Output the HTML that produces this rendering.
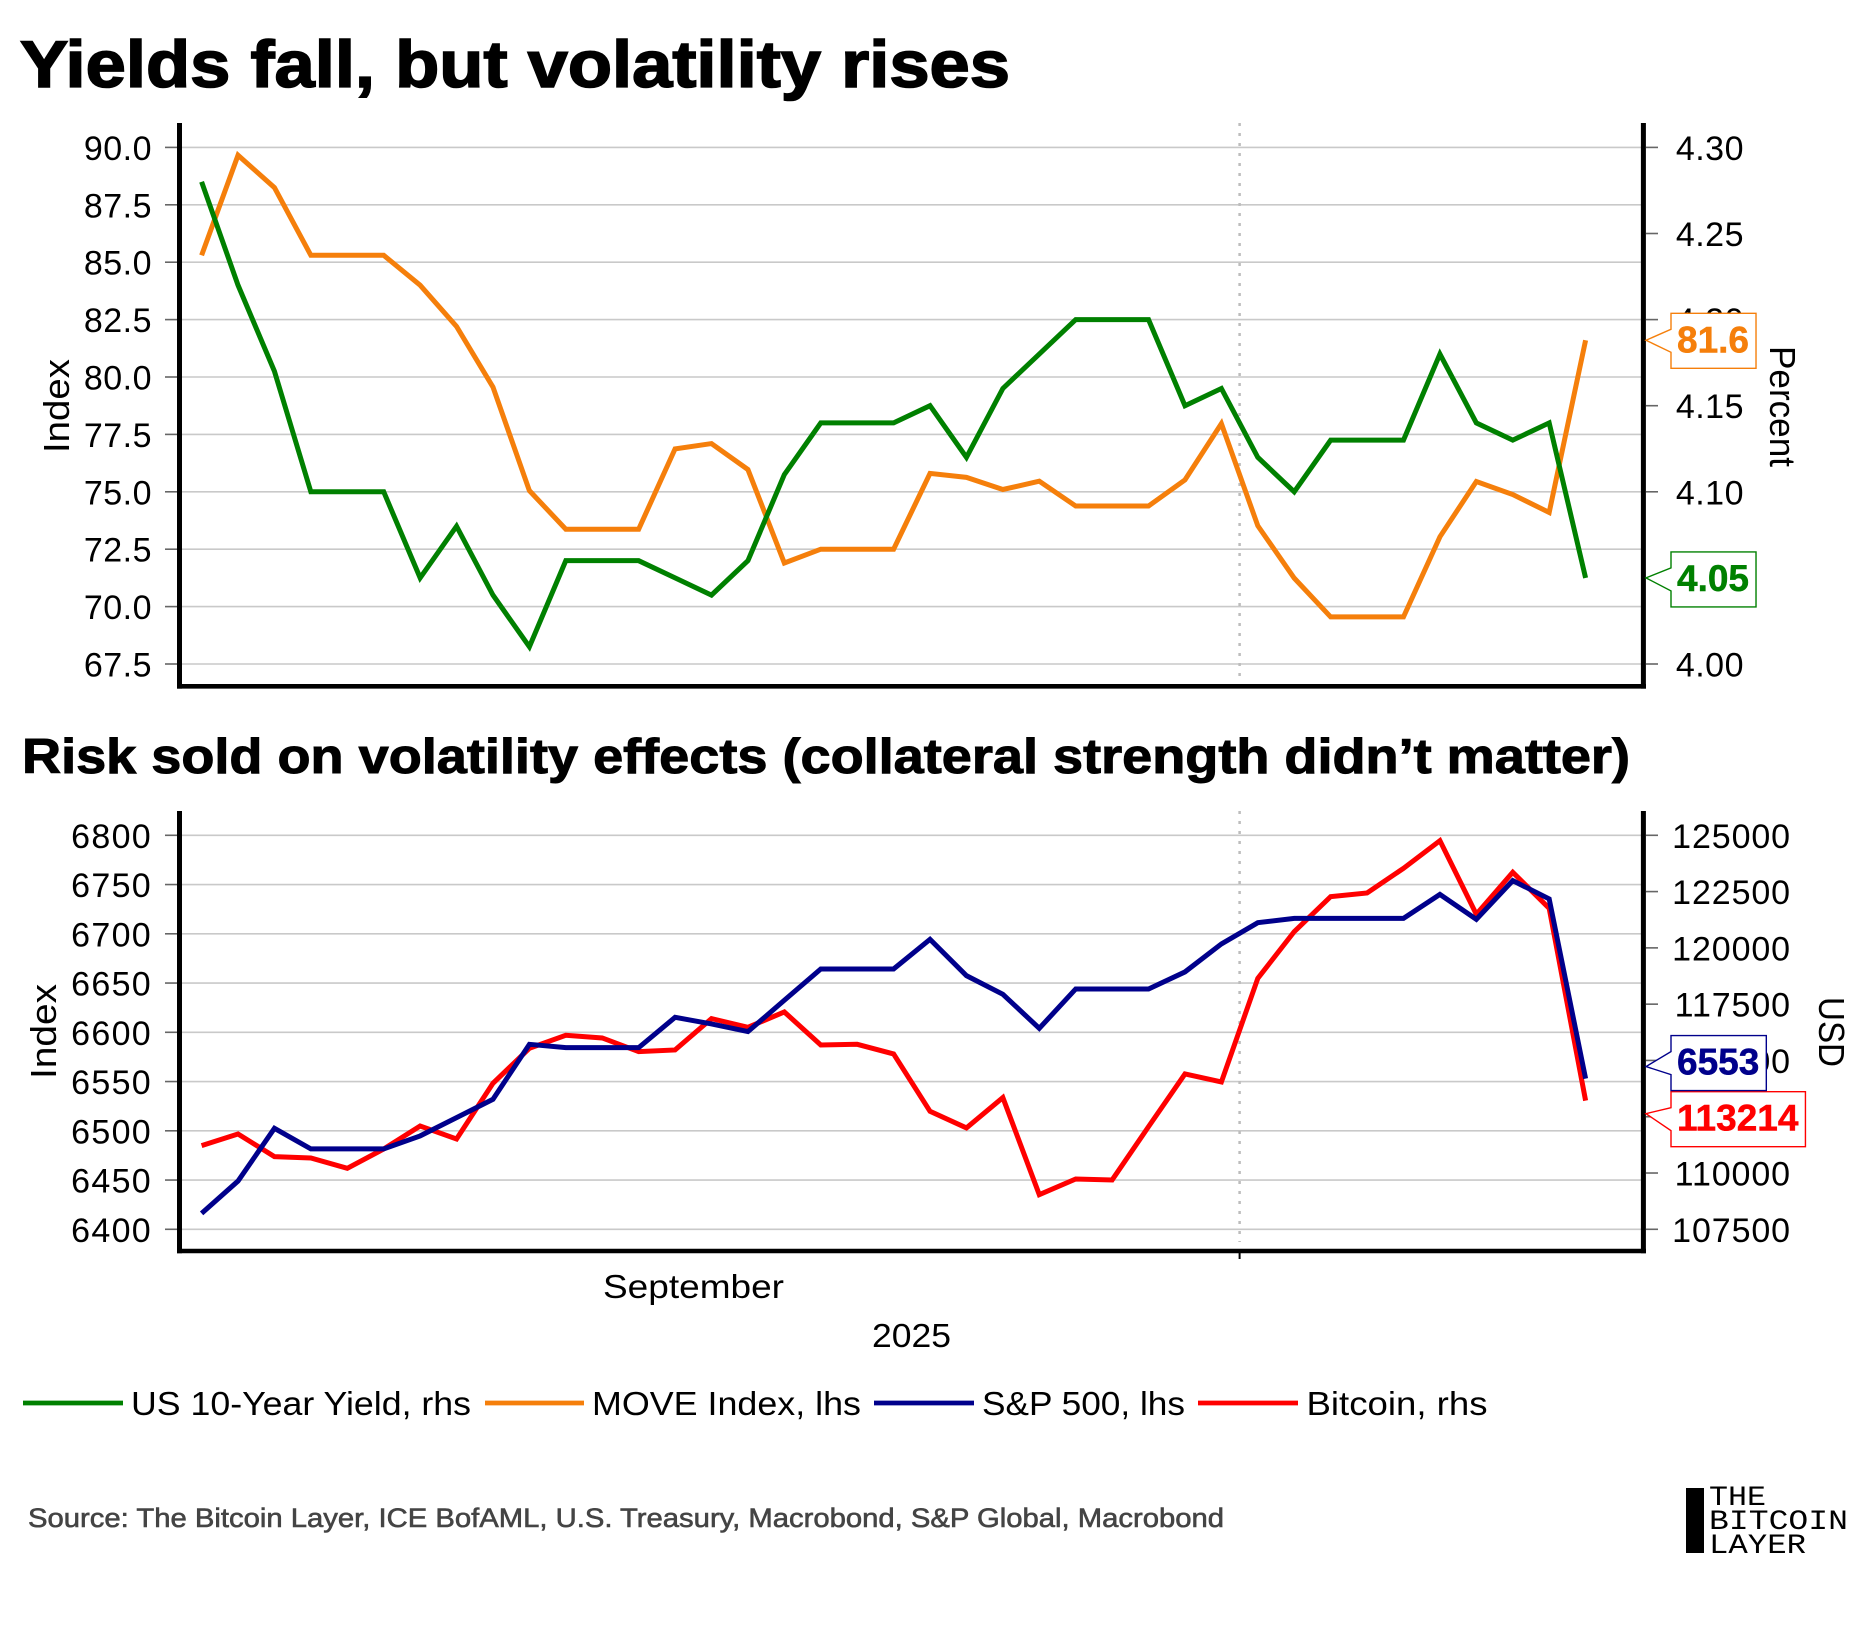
<!DOCTYPE html>
<html lang="en">
<head>
<meta charset="utf-8">
<title>Yields fall, but volatility rises</title>
<style>
html,body{margin:0;padding:0;background:#fff;width:1875px;height:1625px;overflow:hidden}
svg{display:block}
text{font-family:"Liberation Sans",sans-serif;fill:#000}
</style>
</head>
<body>
<svg id="chart" xmlns="http://www.w3.org/2000/svg" width="1875" height="1625" viewBox="0 0 1875 1625"></svg>
<script>
// ---- data ----
const moveTicks = [90, 87.5, 85, 82.5, 80, 77.5, 75, 72.5, 70, 67.5];
const yieldTicks = [4.30, 4.25, 4.20, 4.15, 4.10, 4.05, 4.00];
const spxTicks = [6800, 6750, 6700, 6650, 6600, 6550, 6500, 6450, 6400];
const btcTicks = [125000, 122500, 120000, 117500, 115000, 112500, 110000, 107500];
const moveValues = [85.3, 89.66, 88.25, 85.3, 85.3, 85.3, 84.0, 82.2, 79.56, 75.05, 73.37, 73.37, 73.37, 76.87, 77.1, 75.97, 71.9, 72.5, 72.5, 72.5, 75.8, 75.63, 75.1, 75.46, 74.38, 74.38, 74.38, 75.52, 77.97, 73.52, 71.24, 69.55, 69.55, 69.55, 73.04, 75.45, 74.88, 74.1, 81.6];
const yieldValues = [4.28, 4.22, 4.17, 4.10, 4.10, 4.10, 4.05, 4.08, 4.04, 4.01, 4.06, 4.06, 4.06, 4.05, 4.04, 4.06, 4.11, 4.14, 4.14, 4.14, 4.15, 4.12, 4.16, 4.18, 4.20, 4.20, 4.20, 4.15, 4.16, 4.12, 4.10, 4.13, 4.13, 4.13, 4.18, 4.14, 4.13, 4.14, 4.05];
const spxValues = [6416.2, 6449, 6502.5, 6481.6, 6481.6, 6481.6, 6494.8, 6513.4, 6532, 6587.8, 6584.4, 6584.4, 6584.4, 6615.2, 6608.5, 6600.7, 6632.5, 6664.3, 6664.3, 6664.3, 6694.4, 6657.5, 6638.6, 6604, 6644, 6644, 6644, 6661.3, 6689.7, 6711.3, 6715.7, 6715.7, 6715.7, 6715.7, 6740, 6714.7, 6754, 6735.4, 6553];
const btcValues = [111217, 111735, 110728, 110669, 110210, 111069, 112090, 111513, 113985, 115540, 116117, 115998, 115392, 115466, 116857, 116472, 117153, 115688, 115717, 115288, 112741, 112001, 113349, 109040, 109736, 109692, 112060, 114400, 114044, 118649, 120721, 122276, 122439, 123534, 124763, 121491, 123357, 121758, 113214];
const octoberBoundaryIndex = 28.5;

// ---- helpers ----
const NS = 'http://www.w3.org/2000/svg';
const root = document.getElementById('chart');
function linear(d0, d1, r0, r1) { return v => r0 + (v - d0) * (r1 - r0) / (d1 - d0); }
const xScale = linear(0, 38, 201.6, 1585.6);
const yMove = linear(90, 67.5, 147.4, 664);
const yYield = linear(4.30, 4.00, 147.4, 664);
const ySpx = linear(6800, 6400, 835.3, 1229.3);
const yBtc = linear(125000, 107500, 835.3, 1229.3);

function line(parent, x1, y1, x2, y2, stroke, width, name, dash) {
  const el = document.createElementNS(NS, 'line');
  el.setAttribute('x1', x1); el.setAttribute('y1', y1);
  el.setAttribute('x2', x2); el.setAttribute('y2', y2);
  el.setAttribute('stroke', stroke); el.setAttribute('stroke-width', width);
  if (dash) el.setAttribute('stroke-dasharray', dash);
  
  
  parent.appendChild(el);
  return el;
}
function text(parent, str, x, y, size, name, opts) {
  opts = opts || {};
  const el = document.createElementNS(NS, 'text');
  el.textContent = str;
  el.setAttribute('x', x); el.setAttribute('y', y);
  el.setAttribute('font-size', size);
  if (opts.anchor) el.setAttribute('text-anchor', opts.anchor);
  if (opts.weight) el.setAttribute('font-weight', opts.weight);
  if (opts.fill) el.style.fill = opts.fill;
  if (opts.family) el.style.fontFamily = opts.family;
  if (opts.spacing) el.setAttribute('letter-spacing', opts.spacing);
  if (opts.len) { el.setAttribute('textLength', opts.len); el.setAttribute('lengthAdjust', opts.adjust || 'spacingAndGlyphs'); }
  if (opts.rotate) el.setAttribute('transform', 'rotate(' + opts.rotate + ' ' + x + ' ' + y + ')');
  if (opts.stroke) { el.style.stroke = opts.fill || '#000'; el.style.strokeWidth = opts.stroke; }
  
  
  parent.appendChild(el);
  return el;
}
function group(name) {
  const g = document.createElementNS(NS, 'g');
  
  
  root.appendChild(g);
  return g;
}
function series(parent, values, yFn, color, name) {
  const el = document.createElementNS(NS, 'polyline');
  el.setAttribute('points', values.map((v, i) => xScale(i).toFixed(2) + ',' + yFn(v).toFixed(2)).join(' '));
  el.setAttribute('fill', 'none');
  el.setAttribute('stroke', color);
  el.setAttribute('stroke-width', 5);
  el.setAttribute('stroke-linejoin', 'miter');
  
  
  parent.appendChild(el);
}
function leftAxis(parent, ticks, yFn, decimals, prefix) {
  ticks.forEach(t => {
    line(parent, 182, yFn(t), 1641, yFn(t), '#c9c9c9', 1.6, prefix + '-gridline');
    line(parent, 165, yFn(t), 178, yFn(t), '#666', 1.6, prefix + '-left-tick');
    text(parent, t.toFixed(decimals), 152, yFn(t) + 12.5, 34, prefix + '-left-tick-label', {anchor: 'end', spacing: decimals ? 0.5 : 1.3});
  });
}
function rightAxis(parent, ticks, yFn, decimals, labelRight, prefix) {
  ticks.forEach(t => {
    line(parent, 1646, yFn(t), 1658, yFn(t), '#666', 1.6, prefix + '-right-tick');
    text(parent, t.toFixed(decimals), labelRight, yFn(t) + 12.5, 34, prefix + '-right-tick-label', {anchor: 'end', spacing: decimals ? 0.5 : 0.9});
  });
}
function frame(parent, top, bottom, prefix) {
  const bx = xScale(octoberBoundaryIndex);
  line(parent, bx, top, bx, bottom - 9, '#bdbdbd', 2.5, prefix + '-october-divider', '3 7');
  line(parent, 179.5, top, 179.5, bottom + 2.3, '#000', 5, prefix + '-left-axis');
  line(parent, 1643.4, top, 1643.4, bottom + 2.3, '#000', 5, prefix + '-right-axis');
  line(parent, 177, bottom, 1646, bottom, '#000', 4.6, prefix + '-bottom-axis');
}
function endLabel(parent, value, str, tipY, baseline, color, name) {
  const g = document.createElementNS(NS, 'g');
  
  
  parent.appendChild(g);
  const box = document.createElementNS(NS, 'path');
  box.setAttribute('fill', '#fff');
  box.setAttribute('stroke', color);
  box.setAttribute('stroke-width', 1.4);
  
  
  g.appendChild(box);
  const t = text(g, str, 1677, baseline, 37, name + '-text', {weight: 'bold', fill: color, stroke: 0.5});
  const right = 1677 + t.getComputedTextLength() + 7;
  box.setAttribute('d', 'M1646 ' + tipY + ' L1671 ' + (baseline - 23) + ' L1671 ' + (baseline - 39) + ' L' + right + ' ' + (baseline - 39) + ' L' + right + ' ' + (baseline + 16) + ' L1671 ' + (baseline + 16) + ' L1671 ' + baseline + ' Z');
}

// ---- titles ----
text(root, 'Yields fall, but volatility rises', 20, 87, 66, 'top-chart-title', {weight: 'bold', len: 990, stroke: 1.6});
text(root, 'Risk sold on volatility effects (collateral strength didn\u2019t matter)', 22, 773, 49, 'bottom-chart-title', {weight: 'bold', len: 1608, stroke: 1.0});

// ---- top panel ----
const topPanel = group('top-panel');
leftAxis(topPanel, moveTicks, yMove, 1, 'top');
rightAxis(topPanel, yieldTicks, yYield, 2, 1744, 'top');
frame(topPanel, 123, 686.3, 'top');
series(topPanel, moveValues, yMove, '#f57f0b', 'move-index-line');
series(topPanel, yieldValues, yYield, '#008000', 'us-10-year-yield-line');
text(topPanel, 'Index', 69, 453, 36, 'top-left-axis-title', {rotate: -90, len: 94});
text(topPanel, 'Percent', 1770, 346, 36, 'top-right-axis-title', {rotate: 90, len: 121});
const lastMove = moveValues[moveValues.length - 1];
const lastYield = yieldValues[yieldValues.length - 1];
endLabel(topPanel, lastMove, lastMove.toFixed(1), yMove(lastMove), yMove(lastMove) + 12, '#f57f0b', 'move-end-label');
endLabel(topPanel, lastYield, lastYield.toFixed(2), yYield(lastYield), yYield(lastYield) + 13, '#008000', 'yield-end-label');

// ---- bottom panel ----
const bottomPanel = group('bottom-panel');
leftAxis(bottomPanel, spxTicks, ySpx, 0, 'bottom');
rightAxis(bottomPanel, btcTicks, yBtc, 0, 1791, 'bottom');
frame(bottomPanel, 811, 1251, 'bottom');
line(bottomPanel, xScale(octoberBoundaryIndex), 1251, xScale(octoberBoundaryIndex), 1259, '#000', 2, 'x-axis-month-tick');
series(bottomPanel, btcValues, yBtc, '#ff0000', 'bitcoin-line');
series(bottomPanel, spxValues, ySpx, '#00008b', 'sp500-line');
text(bottomPanel, 'Index', 56, 1079, 36, 'bottom-left-axis-title', {rotate: -90, len: 95});
text(bottomPanel, 'USD', 1819, 997, 36, 'bottom-right-axis-title', {rotate: 90, len: 70});
text(bottomPanel, 'September', 603, 1298, 33, 'x-axis-month-label', {len: 181});
text(bottomPanel, '2025', 872, 1347, 33, 'x-axis-year-label', {len: 79});
const lastSpx = spxValues[spxValues.length - 1];
const lastBtc = btcValues[btcValues.length - 1];
endLabel(bottomPanel, lastBtc, String(lastBtc), yBtc(lastBtc) + 13, yBtc(lastBtc) + 30, '#ff0000', 'bitcoin-end-label');
endLabel(bottomPanel, lastSpx, String(lastSpx), ySpx(lastSpx) - 12, ySpx(lastSpx) - 4, '#00008b', 'sp500-end-label');

// ---- legend ----
const legend = group('legend');
line(legend, 23, 1403, 123, 1403, '#008000', 4.8, 'legend-swatch-us-10-year-yield');
text(legend, 'US 10-Year Yield, rhs', 131, 1415, 33, 'legend-entry-us-10-year-yield', {len: 340});
line(legend, 485, 1403, 584, 1403, '#f57f0b', 4.8, 'legend-swatch-move-index');
text(legend, 'MOVE Index, lhs', 592, 1415, 33, 'legend-entry-move-index', {len: 269});
line(legend, 874, 1403, 974, 1403, '#00008b', 4.8, 'legend-swatch-sp500');
text(legend, 'S&P 500, lhs', 982, 1415, 33, 'legend-entry-sp500', {len: 203});
line(legend, 1198, 1403, 1298, 1403, '#ff0000', 4.8, 'legend-swatch-bitcoin');
text(legend, 'Bitcoin, rhs', 1306.5, 1415, 33, 'legend-entry-bitcoin', {len: 181});

// ---- footer ----
text(root, 'Source: The Bitcoin Layer, ICE BofAML, U.S. Treasury, Macrobond, S&P Global, Macrobond', 28, 1527, 27, 'source-note', {fill: '#444', len: 1196, stroke: 0.6});
const logo = group('bitcoin-layer-logo');
const logoBar = document.createElementNS(NS, 'rect');
logoBar.setAttribute('x', 1686); logoBar.setAttribute('y', 1488);
logoBar.setAttribute('width', 18); logoBar.setAttribute('height', 65);
logoBar.setAttribute('fill', '#000');


logo.appendChild(logoBar);
const mono = '"Liberation Mono",monospace';
text(logo, 'THE', 1709, 1505, 28, 'logo-word-the', {family: mono, len: 57});
text(logo, 'BITCOIN', 1709, 1529, 28, 'logo-word-bitcoin', {family: mono, len: 139});
text(logo, 'LAYER', 1709, 1553, 28, 'logo-word-layer', {family: mono, len: 97});
</script>
</body>
</html>
